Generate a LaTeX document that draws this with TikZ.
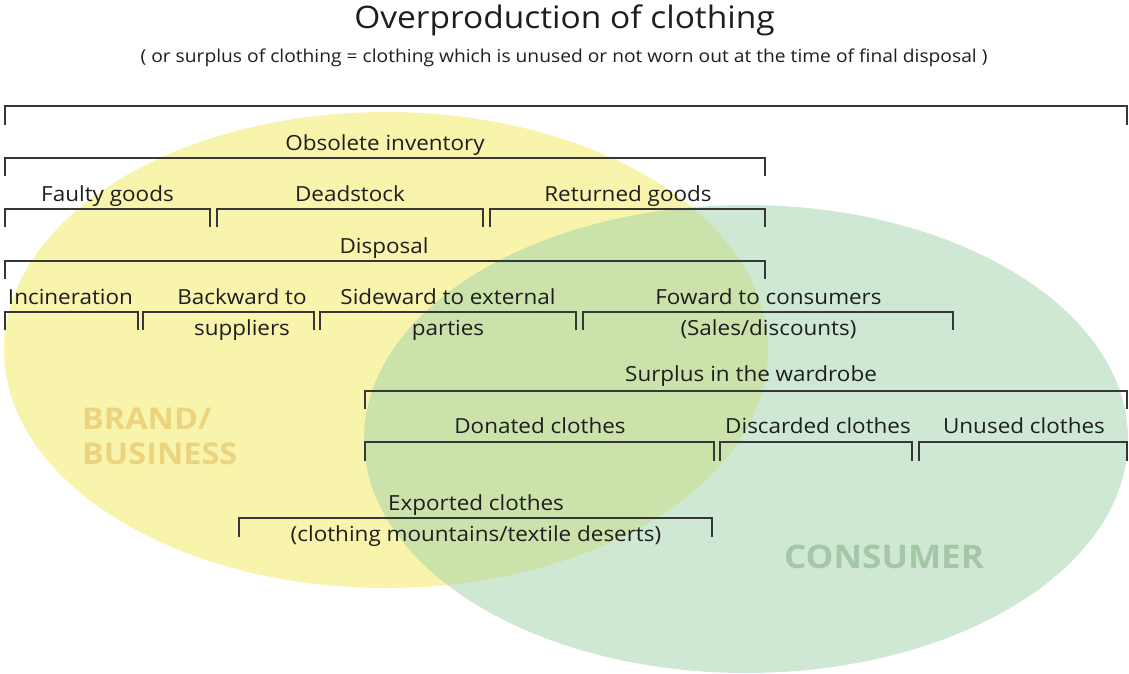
\documentclass[tikz,border=0pt]{standalone}
\usepackage{fontspec}
\setmainfont{Open Sans}[FakeStretch=1.08]
\usetikzlibrary{positioning}
\definecolor{BrandYellow}{RGB}{248,244,172}
\definecolor{BrandText}{RGB}{236,212,126}
\definecolor{ConsumerGreen}{RGB}{160,210,170}
\definecolor{ConsumerText}{RGB}{163,199,167}
\definecolor{BracketGray}{RGB}{55,55,55}
\definecolor{LabelBlack}{RGB}{30,30,30}

\begin{document}
\begin{tikzpicture}[
    x=1pt, y=-1pt,
    lbl/.style = {
        anchor=base, inner sep=0pt, text=LabelBlack,
        font=\fontsize{20.8}{24}\selectfont
    },
    brk/.style = {draw=BracketGray, line width=1.4pt},
    area/.style = {
        anchor=base west, inner sep=0pt, align=left,
        font=\fontsize{30}{35}\selectfont\bfseries
    }
]
\useasboundingbox (0,0) rectangle (1129,674);

% ===== ELLIPSES =====
\fill[BrandYellow] (386,350) ellipse [x radius=382pt, y radius=238pt];
\fill[ConsumerGreen, fill opacity=0.5] (746,439) ellipse [x radius=382pt, y radius=234pt];

\node[area, text=BrandText] (brand) at (82,429) {BRAND/};
\node[area, text=BrandText] (business) at (82,464) {BUSINESS};
\node[area, text=ConsumerText, anchor=base, font=\fontsize{32.5}{36}\selectfont\bfseries]
    (consumer) at (884,568) {CONSUMER};

% ===== TITLE =====
\node[lbl, font=\fontsize{31}{36}\selectfont] (title) at (564.5,29) {Overproduction of clothing};
\node[lbl, font=\fontsize{17.8}{20}\selectfont] (subtitle) at (564,63)
    {( or surplus of clothing = clothing which is unused or not worn out at the time of final disposal )};

% ===== OVERPRODUCTION =====
\draw[brk] (5,125) |- (1127,106) -- ++(0,19);

% ===== OBSOLETE INVENTORY =====
\draw[brk] (5,176) |- (765,158) -- ++(0,18);
\node[lbl] (obsolete) at (385,150) {Obsolete inventory};

\draw[brk] (5,227) |- (210,209) -- ++(0,18);
\node[lbl] (faulty) at (107.5,201) {Faulty goods};
\draw[brk] (217,227) |- (483,209) -- ++(0,18);
\node[lbl] (deadstock) at (350,201) {Deadstock};
\draw[brk] (490,227) |- (765,209) -- ++(0,18);
\node[lbl] (returned) at (628,201) {Returned goods};

% ===== DISPOSAL =====
\draw[brk] (5,279) |- (765,261) -- ++(0,18);
\node[lbl] (disposal) at (384,253) {Disposal};

\draw[brk] (5,330) |- (138,312) -- ++(0,18);
\node[lbl] (incineration) at (70.5,304) {Incineration};
\draw[brk] (143,330) |- (314,312) -- ++(0,18);
\node[lbl] (backward) at (242,304) {Backward to};
\node[lbl] (backward2) at (242,335) {suppliers};
\draw[brk] (320,330) |- (576,312) -- ++(0,18);
\node[lbl] (sideward) at (448,304) {Sideward to external};
\node[lbl] (sideward2) at (448,335) {parties};
\draw[brk] (583,330) |- (953,312) -- ++(0,18);
\node[lbl] (forward) at (768.5,304) {Foward to consumers};
\node[lbl] (forward2) at (768.5,335) {(Sales/discounts)};

% ===== WARDROBE =====
\draw[brk] (365,409) |- (1127,391) -- ++(0,18);
\node[lbl] (surplus) at (751,381.5) {Surplus in the wardrobe};

\draw[brk] (365,461) |- (714,442) -- ++(0,19);
\node[lbl] (donated) at (540,433) {Donated clothes};
\draw[brk] (720,461) |- (912,442) -- ++(0,19);
\node[lbl] (discarded) at (818,433) {Discarded clothes};
\draw[brk] (919,461) |- (1127,442) -- ++(0,19);
\node[lbl] (unused) at (1024,433) {Unused clothes};

% ===== EXPORT =====
\draw[brk] (239,537) |- (712,518) -- ++(0,19);
\node[lbl] (exported) at (476,510) {Exported clothes};
\node[lbl] (exported2) at (476,541) {(clothing mountains/textile deserts)};
\end{tikzpicture}
\end{document}
